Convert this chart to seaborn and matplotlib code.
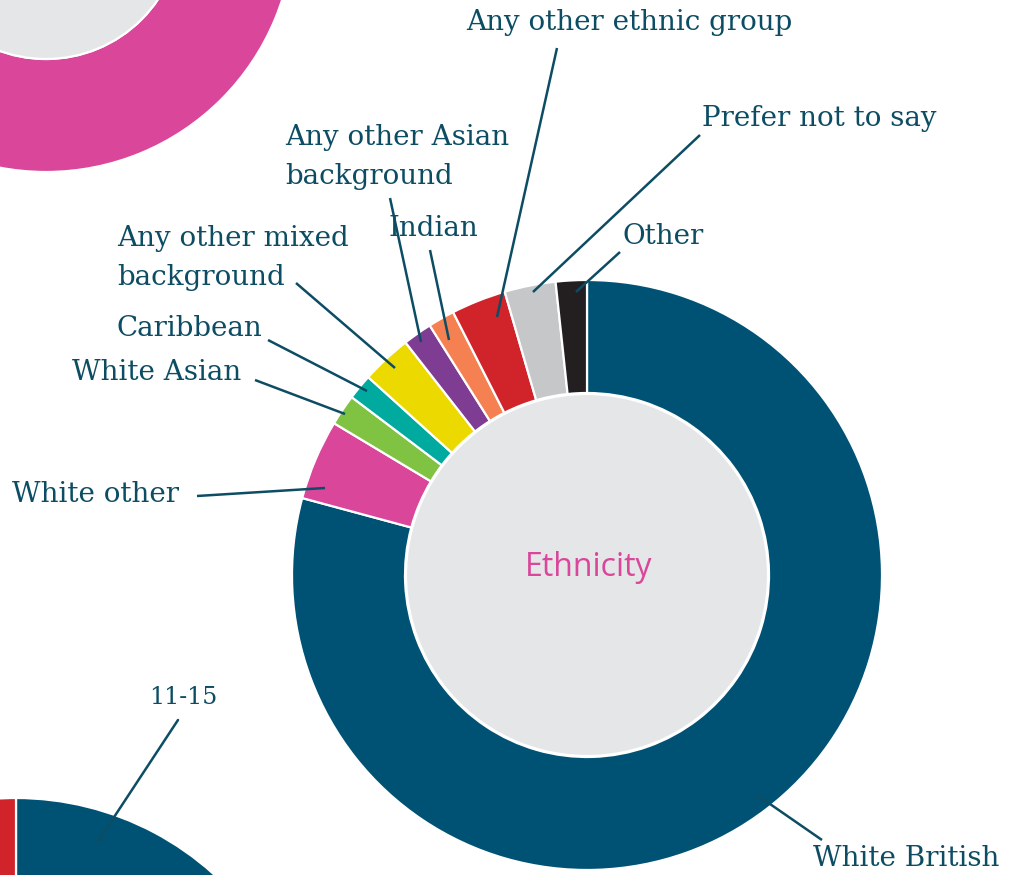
import matplotlib
matplotlib.use("Agg")
import matplotlib.pyplot as plt
import seaborn as sns
from matplotlib.patches import Circle

sns.set_theme(style="white")
plt.rcParams['font.family'] = ['DejaVu Serif']

# ---------------- data ----------------
ethnic_groups = ["White British", "White other", "White Asian", "Caribbean",
                 "Any other mixed\nbackground", "Any other Asian\nbackground",
                 "Indian", "Any other ethnic group", "Prefer not to say", "Other"]
ethnic_share = [79.2, 4.4, 1.7, 1.4, 2.75, 1.6, 1.45, 3.0, 2.8, 1.7]
ethnic_colors = ["#005274", "#d9469a", "#80c242", "#00aa9e", "#ebd900",
                 "#7e3d93", "#f58152", "#d0232a", "#c6c7c9", "#231f20"]

center_title = "Ethnicity"

age_groups = ["11-15", "Other ages"]
age_share = [62, 38]
age_colors = ["#005274", "#d0232a"]

other_ring = [1]
other_ring_colors = ["#d9469a"]

# ---------------- layout (pixel space) ----------------
W, H = 1016, 875
TXT = "#0c4d64"
INNER = "#e5e6e8"
R_OUT, R_IN = 295, 182


def P(x, y):
    return (x, H - y)


# label text position (px), alignment, leader line start (px), leader line end (px)
label_layout = {
    "White British": ((813, 858), "left", (822, 840), (757, 795)),
    "White other": ((12, 494), "left", (197, 496), (325, 488)),
    "White Asian": ((72, 372), "left", (255, 380), (345, 414)),
    "Caribbean": ((117, 329), "left", (268, 340), (367, 391)),
    "Any other mixed\nbackground": ((117, 258), "left", (296, 283), (395, 368)),
    "Any other Asian\nbackground": ((285, 157), "left", (390, 198), (421, 342)),
    "Indian": ((388, 228), "left", (430, 250), (449, 340)),
    "Any other ethnic group": ((629, 22), "center", (557, 48), (497, 317)),
    "Prefer not to say": ((702, 118), "left", (700, 135), (533, 292)),
    "Other": ((623, 237), "left", (620, 252), (576, 292)),
}

fig = plt.figure(figsize=(W / 100, H / 100), dpi=100)
ax = fig.add_axes([0, 0, 1, 1])

wp = dict(edgecolor="white", linewidth=1.6)

# top-left partial ring
ax.pie(other_ring, colors=other_ring_colors, radius=248, center=P(46, -76),
       startangle=90, counterclock=False, wedgeprops=dict(wp, width=113), frame=True)
ax.add_patch(Circle(P(46, -76), 135, facecolor=INNER, edgecolor="white", lw=1.6))

# bottom-left partial ring (age)
ax.pie(age_share, colors=age_colors, radius=R_OUT, center=P(16, 1093),
       startangle=90, counterclock=False, wedgeprops=dict(wp, width=R_OUT - R_IN),
       frame=True)

# main ethnicity donut
ax.pie(ethnic_share, colors=ethnic_colors, radius=R_OUT, center=P(587, 575),
       startangle=90, counterclock=False, wedgeprops=dict(wp, width=R_OUT - R_IN),
       frame=True)
ax.add_patch(Circle(P(587, 575), R_IN - 1, facecolor=INNER, edgecolor="white", lw=1.6))

ax.text(*P(589, 568), center_title, ha="center", va="center", fontsize=23,
        color="#d9469a", family=["Open Sans", "DejaVu Sans"])

for name in ethnic_groups:
    (tx, ty), ha, s, e = label_layout[name]
    ax.plot([P(*s)[0], P(*e)[0]], [P(*s)[1], P(*e)[1]], color=TXT, lw=1.8,
            solid_capstyle="butt")
    ax.text(*P(tx, ty), name, ha=ha, va="center", fontsize=20, color=TXT,
            linespacing=1.55)

# age label
ax.plot([P(178, 720)[0], P(97, 843)[0]], [P(178, 720)[1], P(97, 843)[1]],
        color=TXT, lw=1.8)
ax.text(*P(183, 697), age_groups[0], ha="center", va="center", fontsize=17,
        color=TXT)

ax.set_xlim(0, W)
ax.set_ylim(0, H)
ax.set_aspect("equal")
ax.axis("off")

fig.savefig("out.png", dpi=100, facecolor="white")
